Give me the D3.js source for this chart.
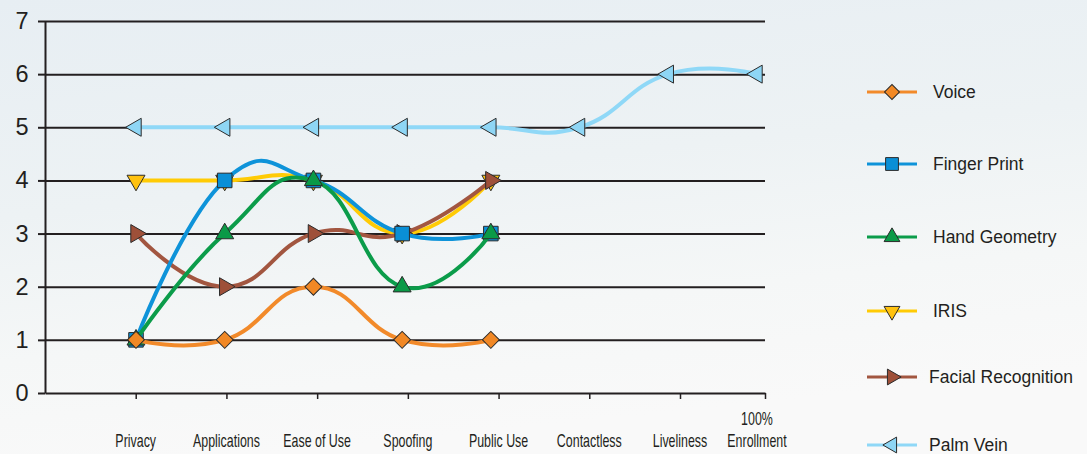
<!DOCTYPE html>
<html>
<head>
<meta charset="utf-8">
<script src="https://cdn.jsdelivr.net/npm/d3@7"></script>
<style>
  html, body { margin: 0; padding: 0; background: #f7f8f8; }
  svg { display: block; }
</style>
</head>
<body>
<svg id="chart" width="1087" height="454"></svg>
<script>
// ---------- data ----------
const categories = ["Privacy", "Applications", "Ease of Use", "Spoofing", "Public Use", "Contactless", "Liveliness", "100% Enrollment"];
const tickLabels = [["Privacy"], ["Applications"], ["Ease of Use"], ["Spoofing"], ["Public Use"], ["Contactless"], ["Liveliness"], ["100%", "Enrollment"]];
const yTicks = [0, 1, 2, 3, 4, 5, 6, 7];

const seriesNames = ["Voice", "Finger Print", "Hand Geometry", "IRIS", "Facial Recognition", "Palm Vein"];
const voice        = [1, 1, 2, 1, 1, null, null, null];
const fingerPrint  = [1, 4, 4, 3, 3, null, null, null];
const handGeometry = [1, 3, 4, 2, 3, null, null, null];
const iris         = [4, 4, 4, 3, 4, null, null, null];
const facial       = [3, 2, 3, 3, 4, null, null, null];
const palmVein     = [5, 5, 5, 5, 5, 5, 6, 6];

// ---------- styles ----------
const lineColors   = ["#f28a2a", "#0e93d9", "#0b9c4a", "#ffcb05", "#a25640", "#8fd8f7"];
const markerFills  = ["#f18825", "#0a8fd6", "#0a9a47", "#ffc20f", "#9e5039", "#8ed6f5"];
const markerKinds  = ["diamond", "square", "triUp", "triDown", "triRight", "triLeft"];
const drawOrder    = [5, 3, 4, 1, 2, 0]; // bottom -> top
const legendY      = [92, 164, 237, 311, 377, 445];
const legendTextX  = [933, 933, 933, 933, 929, 929];

const allValues = [voice, fingerPrint, handGeometry, iris, facial, palmVein];

const svg = d3.select("#chart");

// background
const defs = svg.append("defs");
const bg = defs.append("linearGradient").attr("id", "bg").attr("x1", 0).attr("y1", 0).attr("x2", 0.25).attr("y2", 1);
bg.append("stop").attr("offset", "0%").attr("stop-color", "#e7eef3");
bg.append("stop").attr("offset", "45%").attr("stop-color", "#edf2f4");
bg.append("stop").attr("offset", "75%").attr("stop-color", "#f5f7f7");
bg.append("stop").attr("offset", "100%").attr("stop-color", "#f9f9f9");
svg.append("rect").attr("width", 1087).attr("height", 454).attr("fill", "url(#bg)");

// ---------- scales ----------
const y = d3.scaleLinear().domain([0, 7]).range([393, 21]);
const xPoint = d3.scalePoint().domain(categories).range([136, 757]);
const xTick = d3.scaleLinear().domain([0, 7, 8]).range([45, 680, 765]);
const xLabel = d3.scaleLinear().domain([0, 7, 8]).range([45, 680, 757]);

const ink = "#231f20";

// gridlines
const grid = svg.append("g").attr("transform", "translate(45,0)")
  .call(d3.axisLeft(y).tickValues(yTicks.slice(1)).tickSize(-720).tickFormat(""));
grid.select(".domain").remove();
grid.selectAll("line").attr("stroke", ink).attr("stroke-width", 2);

// y axis
const yAxis = svg.append("g").attr("transform", "translate(45,0)")
  .call(d3.axisLeft(y).tickValues(yTicks).tickFormat(d3.format("d")).tickSize(7).tickSizeOuter(0).tickPadding(9.5));
yAxis.select(".domain").attr("stroke", ink).attr("stroke-width", 2);
yAxis.selectAll("line").attr("stroke", ink).attr("stroke-width", 2);
yAxis.selectAll("text").attr("fill", ink)
  .style("font-family", "'Liberation Sans', Arial, sans-serif").style("font-size", "23.5px");

// x axis
const xAxis = svg.append("g").attr("transform", "translate(0,393)")
  .call(d3.axisBottom(xTick).tickValues(d3.range(1, 9)).tickSize(6).tickSizeOuter(0).tickFormat(""));
xAxis.select(".domain").attr("stroke", ink).attr("stroke-width", 2);
xAxis.selectAll("line").attr("stroke", ink).attr("stroke-width", 1.5);

// x labels (condensed)
const xl = svg.append("g").attr("class", "xlabels");
tickLabels.forEach((lines, i) => {
  lines.forEach((t, j) => {
    const base = 447 - (lines.length - 1 - j) * 22;
    xl.append("text")
      .attr("transform", `translate(${xLabel(i + 1)},${base}) scale(0.69,1)`)
      .attr("text-anchor", "middle")
      .attr("fill", ink)
      .style("font-family", "'Liberation Sans', Arial, sans-serif")
      .style("font-size", "18px")
      .text(t);
  });
});

// ---------- markers ----------
function markerPath(kind, scale) {
  const s = scale || 1;
  if (kind === "diamond") return { d: d3.symbol().type(d3.symbolSquare).size(144 * s * s)(), rot: 45 };
  if (kind === "square") return { d: d3.symbol().type(d3.symbolSquare).size(212 * s * s)(), rot: 0 };
  const d = d3.symbol().type(d3.symbolTriangle).size(140 * s * s)();
  const rot = { triUp: 0, triDown: 180, triRight: 90, triLeft: -90 }[kind];
  return { d, rot };
}

// ---------- lines ----------
const line = d3.line()
  .defined(d => d.v != null)
  .x(d => xPoint(d.c))
  .y(d => y(d.v))
  .curve(d3.curveCardinal.tension(-0.4));

const plot = svg.append("g");
drawOrder.forEach(si => {
  const pts = categories.map((c, i) => ({ c, v: allValues[si][i] })).filter(d => d.v != null);
  const g = plot.append("g");
  g.append("path").datum(pts)
    .attr("d", line)
    .attr("fill", "none")
    .attr("stroke", lineColors[si])
    .attr("stroke-width", 4)
    .attr("stroke-linecap", "round");
  const m = markerPath(markerKinds[si]);
  g.selectAll("path.mk").data(pts).join("path")
    .attr("class", "mk")
    .attr("d", m.d)
    .attr("transform", d => `translate(${xPoint(d.c)},${y(d.v)}) rotate(${m.rot})`)
    .attr("fill", markerFills[si])
    .attr("stroke", "#2b2b2b")
    .attr("stroke-width", 1);
});

// ---------- legend ----------
const lg = svg.append("g");
seriesNames.forEach((name, i) => {
  const yy = legendY[i];
  lg.append("line").attr("x1", 867).attr("x2", 917).attr("y1", yy).attr("y2", yy)
    .attr("stroke", lineColors[i]).attr("stroke-width", 3);
  const m = markerPath(markerKinds[i], 0.88);
  lg.append("path").attr("d", m.d)
    .attr("transform", `translate(892,${yy}) rotate(${m.rot})`)
    .attr("fill", markerFills[i]).attr("stroke", "#2b2b2b").attr("stroke-width", 1);
  lg.append("text").attr("x", legendTextX[i]).attr("y", yy).attr("dy", "0.36em")
    .attr("fill", ink)
    .style("font-family", "'Liberation Sans', Arial, sans-serif")
    .style("font-size", "17.5px")
    .text(name);
});
</script>
</body>
</html>
